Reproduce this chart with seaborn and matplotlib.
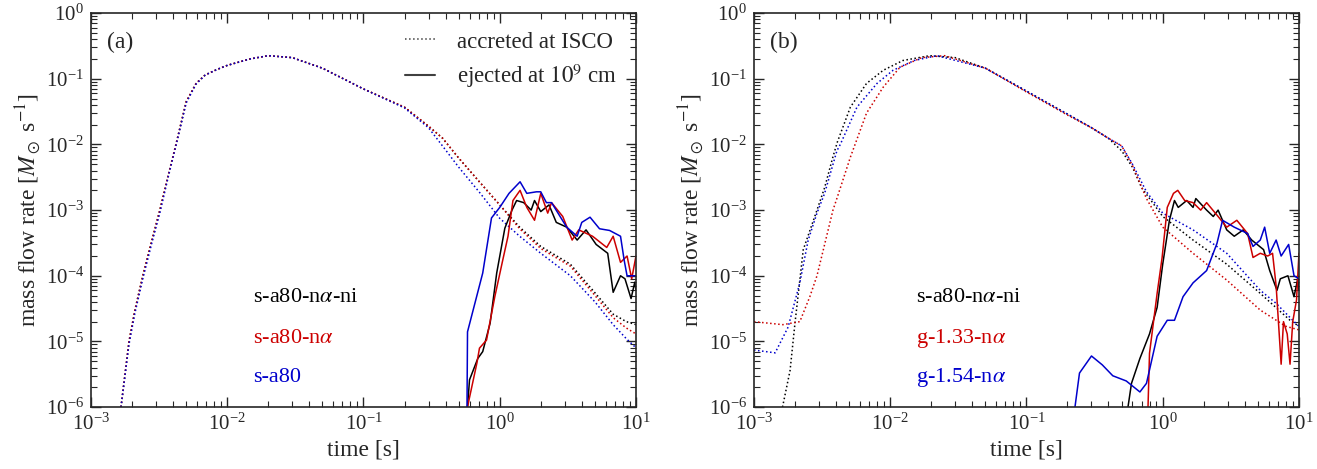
import matplotlib
matplotlib.use("Agg")
import matplotlib.pyplot as plt
from matplotlib.lines import Line2D
from matplotlib.ticker import NullFormatter
import seaborn as sns

# ---- panel (a): accreted at ISCO (dotted) ----
a_acc_t = [1.66e-3, 1.9e-3, 2.1e-3, 2.4e-3, 2.8e-3, 3.2e-3, 3.7e-3, 4.2e-3, 5.0e-3, 5.9e-3,
           6.9e-3, 8.5e-3, 0.010, 0.0146, 0.020, 0.030, 0.050, 0.10, 0.20, 0.30,
           0.38, 0.50, 0.72, 1.0, 1.4, 2.0, 3.3, 5.0, 6.8, 8.5, 10.0]
a_acc_black = [1e-6, 1e-5, 3e-5, 1e-4, 3.5e-4, 1e-3, 3.5e-3, 1e-2, 4.5e-2, 8.5e-2,
               0.115, 0.14, 0.16, 0.20, 0.225, 0.21, 0.145, 0.07, 0.037, 0.019,
               0.0125, 0.0062, 0.0026, 0.0012, 5.5e-4, 2.8e-4, 1.5e-4, 5.5e-5, 2.6e-5, 2.0e-5, 1.8e-5]
a_acc_red = [1e-6, 1e-5, 3e-5, 1e-4, 3.5e-4, 1e-3, 3.5e-3, 1e-2, 4.5e-2, 8.5e-2,
             0.115, 0.14, 0.16, 0.20, 0.225, 0.21, 0.145, 0.07, 0.037, 0.019,
             0.0125, 0.0062, 0.0026, 0.0012, 5.2e-4, 2.6e-4, 1.4e-4, 5e-5, 2.3e-5, 1.6e-5, 1.3e-5]
a_acc_blue = [1e-6, 9e-6, 2.7e-5, 9e-5, 3.2e-4, 9e-4, 3.3e-3, 9.5e-3, 4.3e-2, 8.3e-2,
              0.114, 0.14, 0.16, 0.20, 0.225, 0.21, 0.145, 0.07, 0.036, 0.018,
              0.0095, 0.0045, 0.0018, 7.5e-4, 4e-4, 2.2e-4, 1.0e-4, 4e-5, 1.8e-5, 1.1e-5, 8e-6]

# ---- panel (a): ejected at 1e9 cm (solid) ----
a_ej_black_t = [0.58, 0.60, 0.69, 0.75, 0.85, 0.95, 1.09, 1.23, 1.33, 1.5, 1.7, 1.8, 2.0, 2.3,
                2.6, 3.1, 3.7, 4.3, 5.1, 6.2, 6.8, 7.7, 8.3, 9.2, 9.8, 10.0]
a_ej_black = [1e-6, 2.6e-6, 5.5e-6, 7e-6, 1.9e-5, 1.1e-4, 5.3e-4, 1e-3, 1.4e-3, 1.3e-3, 1e-3, 1.4e-3,
              9.5e-4, 1.2e-3, 6.5e-4, 5.5e-4, 3.5e-4, 5e-4, 3e-4, 2.2e-4, 5.6e-5, 1e-4, 9e-5,
              4.5e-5, 8e-5, 6e-5]
a_ej_red_t = [0.58, 0.60, 0.68, 0.71, 0.80, 0.92, 1.05, 1.15, 1.25, 1.41, 1.58, 1.8, 2.0, 2.25,
              2.4, 2.9, 3.4, 3.8, 4.8, 6.1, 6.8, 7.7, 8.6, 9.3, 10.0]
a_ej_red = [1e-6, 1.4e-6, 4.7e-6, 7.9e-6, 1.05e-5, 4.8e-5, 1.7e-4, 4e-4, 1.4e-3, 2e-3, 1.1e-3,
            7e-4, 1.8e-3, 9e-4, 1.3e-3, 8e-4, 3.5e-4, 5e-4, 4e-4, 2.7e-4, 4e-4, 1.6e-4, 2e-4,
            9e-5, 2e-4]
a_ej_blue_t = [0.575, 0.58, 0.75, 0.87, 1.0, 1.17, 1.41, 1.58, 1.86, 2.0, 2.2, 2.4, 3.1, 3.7,
               4.0, 4.6, 5.4, 6.4, 7.7, 8.2, 8.6, 9.5, 10.0]
a_ej_blue = [1e-6, 1.4e-5, 1.1e-4, 7.6e-4, 1.1e-3, 1.8e-3, 2.7e-3, 1.8e-3, 1.9e-3, 1.9e-3,
             1.3e-3, 1.3e-3, 5.5e-4, 4e-4, 6.5e-4, 7.8e-4, 5.2e-4, 4.9e-4, 4e-4, 1.7e-4,
             1e-4, 1e-4, 1e-4]

# ---- panel (b): accreted at ISCO (dotted) ----
b_acc_black_t = [1.62e-3, 1.84e-3, 2.0e-3, 2.3e-3, 2.9e-3, 3.3e-3, 3.8e-3, 4.1e-3, 5.1e-3,
                 6.7e-3, 8.9e-3, 0.0124, 0.0195, 0.030, 0.050, 0.10, 0.20, 0.30, 0.40, 0.50,
                 0.60, 0.70, 1.0, 1.67, 2.95, 5.2, 8.6, 10.0]
b_acc_black = [1e-6, 3.6e-6, 1.9e-5, 2.5e-4, 1e-3, 2.2e-3, 6.5e-3, 1.1e-2, 0.037, 0.085,
               0.135, 0.19, 0.225, 0.21, 0.145, 0.065, 0.029, 0.018, 0.0124, 0.008,
               0.0045, 0.0022, 8e-4, 3.5e-4, 1.5e-4, 5.4e-5, 2.1e-5, 1.7e-5]
b_acc_red_t = [1.0e-3, 1.63e-3, 2.17e-3, 2.57e-3, 2.9e-3, 3.3e-3, 3.8e-3, 4.1e-3, 5.1e-3,
               6.7e-3, 8.9e-3, 0.0118, 0.017, 0.025, 0.050, 0.10, 0.20, 0.30, 0.40, 0.50,
               0.60, 0.76, 1.0, 1.67, 2.95, 5.2, 8.0, 10.0]
b_acc_red = [2e-5, 1.8e-5, 2e-5, 4.8e-5, 1e-4, 3e-4, 1e-3, 1.6e-3, 6.4e-3, 0.03,
             0.075, 0.15, 0.21, 0.225, 0.145, 0.063, 0.028, 0.018, 0.0124, 0.0095,
             0.0048, 0.0015, 5.5e-4, 2.2e-4, 8.6e-5, 3e-5, 1.7e-5, 1.5e-5]
b_acc_blue_t = [1.0e-3, 1.43e-3, 1.78e-3, 2.17e-3, 2.5e-3, 2.9e-3, 3.3e-3, 4.06e-3, 4.3e-3,
                5.7e-3, 8.0e-3, 0.0105, 0.015, 0.022, 0.050, 0.10, 0.20, 0.30, 0.40, 0.50,
                0.60, 0.76, 1.0, 1.67, 2.95, 5.2, 6.8, 9.0, 10.0]
b_acc_blue = [7.4e-6, 6.7e-6, 1.65e-5, 7.8e-5, 3.5e-4, 9e-4, 1.8e-3, 8e-3, 1.0e-2,
              0.037, 0.085, 0.135, 0.19, 0.225, 0.145, 0.065, 0.029, 0.018, 0.0124, 0.0095,
              0.005, 0.0019, 9e-4, 5e-4, 2.2e-4, 6e-5, 3.8e-5, 2.1e-5, 1.7e-5]

# ---- panel (b): ejected at 1e9 cm (solid) ----
b_ej_black_t = [0.556, 0.59, 0.68, 0.80, 0.91, 1.0, 1.12, 1.22, 1.3, 1.5, 1.67, 1.75, 2.1,
                2.35, 2.55, 2.95, 3.35, 3.9, 4.5, 5.5, 6.1, 6.9, 7.3, 8.3, 9.2, 9.8, 10.0]
b_ej_black = [1e-6, 2.3e-6, 5.5e-6, 1.3e-5, 3.3e-5, 1.5e-4, 7e-4, 1.4e-3, 1.1e-3, 1.4e-3,
              1.1e-3, 1.5e-3, 1e-3, 8e-4, 1e-3, 5e-4, 4e-4, 5e-4, 3.5e-4, 2.5e-4, 1.2e-4,
              6e-5, 9e-5, 1e-4, 4.8e-5, 9e-5, 6e-5]
b_ej_red_t = [0.78, 0.80, 0.91, 0.99, 1.08, 1.2, 1.29, 1.45, 1.67, 1.9, 2.1, 2.55, 2.95,
              3.5, 4.2, 4.6, 5.2, 5.9, 6.4, 6.8, 7.4, 7.7, 8.2, 8.6, 9.0, 9.6, 10.0]
b_ej_red = [1e-6, 6.6e-6, 5.4e-5, 1.9e-4, 1.1e-3, 1.8e-3, 2e-3, 1.4e-3, 1.3e-3, 1e-3,
            1.3e-3, 8e-4, 5.5e-4, 7e-4, 4.4e-4, 1.9e-4, 2.2e-4, 2e-4, 2.2e-4, 7e-5,
            4.5e-6, 2e-5, 1.3e-5, 4.5e-6, 2e-5, 4.3e-5, 2.2e-4]
b_ej_blue_t = [0.227, 0.245, 0.30, 0.36, 0.43, 0.54, 0.68, 0.76, 0.91, 1.08, 1.22, 1.41,
               1.67, 2.1, 2.5, 2.75, 3.35, 4.2, 4.6, 5.2, 5.6, 6.1, 6.8, 7.4, 8.4, 9.2, 10.0]
b_ej_blue = [1e-6, 3.3e-6, 6e-6, 4.4e-6, 3e-6, 2.5e-6, 1.7e-6, 2.3e-6, 1.2e-5, 2.1e-5,
             2.1e-5, 4.8e-5, 7.8e-5, 1.2e-4, 3.1e-4, 7e-4, 5.5e-4, 4.4e-4, 2.8e-4, 3.5e-4,
             5.5e-4, 2.2e-4, 3.5e-4, 2e-4, 3e-4, 1e-4, 9e-5]

a_names = ["s-a80-n$\\alpha$-ni", "s-a80-n$\\alpha$", "s-a80"]
b_names = ["s-a80-n$\\alpha$-ni", "g-1.33-n$\\alpha$", "g-1.54-n$\\alpha$"]
colors = ["black", "#cc0000", "#0000cc"]
x_ticks = [1e-3, 1e-2, 1e-1, 1e0, 1e1]
y_ticks = [1e-6, 1e-5, 1e-4, 1e-3, 1e-2, 1e-1, 1e0]

sns.set_style("ticks")
plt.rcParams["font.family"] = ["Liberation Serif", "DejaVu Serif"]
plt.rcParams["mathtext.fontset"] = "stix"


def plot_curve(ax, t, y, color, dotted):
    if dotted:
        sns.lineplot(x=t, y=y, ax=ax, color=color, linestyle=":", linewidth=1.1,
                     estimator=None, sort=False)
    else:
        sns.lineplot(x=t, y=y, ax=ax, color=color, linestyle="-", linewidth=1.1,
                     estimator=None, sort=False)


def style_axes(ax, tag, names):
    ax.set_xscale("log")
    ax.set_yscale("log")
    ax.set_xticks(x_ticks)
    ax.set_yticks(y_ticks)
    ax.set_xlim(1e-3, 1e1)
    ax.set_ylim(1e-6, 1e0)
    ax.xaxis.set_minor_formatter(NullFormatter())
    ax.yaxis.set_minor_formatter(NullFormatter())
    ax.set_xlabel("time [s]", fontsize=17, labelpad=3)
    ax.set_ylabel(r"mass flow rate [$M_\odot$ s$^{-1}$]", fontsize=17, labelpad=2)
    ax.tick_params(which="both", direction="in", top=True, right=True, labelsize=15, pad=5)
    ax.tick_params(which="major", length=7, width=1)
    ax.tick_params(which="minor", length=4, width=0.8)
    for sp in ax.spines.values():
        sp.set_linewidth(1.2)
    ax.text(0.03, 0.925, tag, transform=ax.transAxes, fontsize=17, va="center")
    for name, c, yy in zip(names, colors, [0.279, 0.175, 0.074]):
        ax.text(0.297, yy, name, transform=ax.transAxes, color=c, fontsize=16, va="center")


fig, (ax1, ax2) = plt.subplots(1, 2, figsize=(13.17, 4.69), dpi=100)
fig.subplots_adjust(left=0.0691, right=0.9863, bottom=0.132, top=0.972, wspace=0.2165)

plot_curve(ax1, a_acc_t, a_acc_black, colors[0], True)
plot_curve(ax1, a_acc_t, a_acc_red, colors[1], True)
plot_curve(ax1, a_acc_t, a_acc_blue, colors[2], True)
plot_curve(ax1, a_ej_black_t, a_ej_black, colors[0], False)
plot_curve(ax1, a_ej_red_t, a_ej_red, colors[1], False)
plot_curve(ax1, a_ej_blue_t, a_ej_blue, colors[2], False)
style_axes(ax1, "(a)", a_names)

handles = [Line2D([], [], color="0.25", linestyle=":", linewidth=1.1),
           Line2D([], [], color="0.25", linestyle="-", linewidth=1.5)]
ax1.legend(handles, ["accreted at ISCO", "ejected at $10^9$ cm"], loc="upper right",
           frameon=False, fontsize=16.5, handlelength=1.3, handletextpad=1.0,
           labelspacing=0.4, borderaxespad=0.4)

plot_curve(ax2, b_acc_black_t, b_acc_black, colors[0], True)
plot_curve(ax2, b_acc_red_t, b_acc_red, colors[1], True)
plot_curve(ax2, b_acc_blue_t, b_acc_blue, colors[2], True)
plot_curve(ax2, b_ej_black_t, b_ej_black, colors[0], False)
plot_curve(ax2, b_ej_red_t, b_ej_red, colors[1], False)
plot_curve(ax2, b_ej_blue_t, b_ej_blue, colors[2], False)
style_axes(ax2, "(b)", b_names)

fig.savefig("out.png", dpi=100)
